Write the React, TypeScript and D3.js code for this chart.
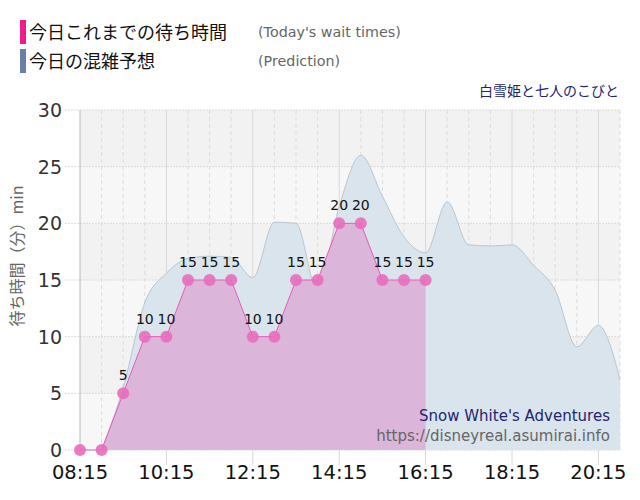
import React, { useRef, useEffect } from 'react';
import * as d3 from 'd3';

// today's wait times (every 30 min)
const actualTimes = ['08:15', '08:45', '09:15', '09:45', '10:15', '10:45', '11:15', '11:45', '12:15',
  '12:45', '13:15', '13:45', '14:15', '14:45', '15:15', '15:45', '16:15'];
const actualWaits = [0, 0, 5, 10, 10, 15, 15, 15, 10, 10, 15, 15, 20, 20, 15, 15, 15];

// predicted congestion
const predTimes = ['08:45', '09:15', '09:45', '10:15', '10:45', '11:15', '11:45', '12:15', '12:45',
  '13:15', '13:45', '14:15', '14:45', '15:15', '15:45', '16:15', '16:45', '17:15', '17:45',
  '18:15', '18:45', '19:15', '19:45', '20:15', '20:45'];
const predWaits = [0, 5.5, 13, 15.6, 16.9, 17.1, 17, 15.2, 20.1, 20, 14, 21.5, 26, 22.4, 18.8,
  17.4, 21.9, 18.1, 18, 18.1, 16.3, 14.1, 9.1, 11, 6.2];

const xTicks = ['08:15', '10:15', '12:15', '14:15', '16:15', '18:15', '20:15'];
const yTicks = [0, 5, 10, 15, 20, 25, 30];

const toMin = (s: string) => {
  const [h, m] = s.split(':').map(Number);
  return h * 60 + m;
};

const FONT = "'DejaVu Sans', 'Noto Sans CJK JP', sans-serif";
const JP = "'Noto Sans CJK JP', 'DejaVu Sans', sans-serif";

const App = () => {
  const svgRef = useRef<SVGSVGElement>(null);

  useEffect(() => {
    if (!svgRef.current) return;
    const svg = d3.select(svgRef.current);
    svg.selectAll('*').remove();

    const left = 80, right = 620, top = 110, bottom = 450;

    const x = d3.scaleLinear().domain([toMin('08:15'), toMin('20:45')]).range([left, right]);
    const y = d3.scaleLinear().domain([0, 30]).range([bottom, top]);

    // legend
    const legend = [
      { color: '#f01b8e', jp: '今日これまでの待ち時間', en: "(Today's wait times)", y: 20 },
      { color: '#6a7fa7', jp: '今日の混雑予想', en: '(Prediction)', y: 49 },
    ];
    legend.forEach(l => {
      svg.append('rect').attr('x', 20).attr('y', l.y).attr('width', 6).attr('height', 24).attr('fill', l.color);
      svg.append('text').attr('x', 29).attr('y', l.y + 19).attr('font-family', JP).attr('font-size', 18)
        .attr('fill', '#111').text(l.jp);
      svg.append('text').attr('x', 258).attr('y', l.y + 17).attr('font-family', FONT).attr('font-size', 14.3)
        .attr('fill', '#666').text(l.en);
    });

    svg.append('text').attr('x', 619).attr('y', 96).attr('text-anchor', 'end')
      .attr('font-family', JP).attr('font-size', 14).attr('fill', '#24246e').text('白雪姫と七人のこびと');

    // plot background bands
    yTicks.slice(1).forEach((t, i) => {
      svg.append('rect').attr('x', left).attr('y', y(t)).attr('width', right - left)
        .attr('height', y(t - 5) - y(t)).attr('fill', i % 2 === 0 ? '#f7f7f7' : '#f2f2f2');
    });

    // vertical grid every 30 min
    const gridTimes = d3.range(toMin('08:45'), toMin('20:45') + 1, 30);
    gridTimes.forEach(t => {
      const major = (t - toMin('08:15')) % 120 === 0;
      svg.append('line').attr('x1', x(t)).attr('x2', x(t)).attr('y1', top)
        .attr('y2', major ? bottom + 15 : bottom)
        .attr('stroke', major ? '#d8d8d8' : '#dcdcdc').attr('stroke-width', 1)
        .attr('stroke-dasharray', major ? null : '4,3');
    });

    // horizontal grid
    yTicks.forEach(t => {
      svg.append('line').attr('x1', 65).attr('x2', right).attr('y1', y(t)).attr('y2', y(t))
        .attr('stroke', '#dadada').attr('stroke-width', 1).attr('stroke-dasharray', '2,1');
    });

    // prediction area
    const predData = predTimes.map((t, i) => ({ t: toMin(t), v: predWaits[i] }));
    const predArea = d3.area<{ t: number; v: number }>()
      .x(d => x(d.t)).y0(bottom).y1(d => y(d.v)).curve(d3.curveMonotoneX);
    const predLine = d3.line<{ t: number; v: number }>()
      .x(d => x(d.t)).y(d => y(d.v)).curve(d3.curveMonotoneX);
    svg.append('path').datum(predData).attr('d', predArea).attr('fill', '#d9e4ec');
    svg.append('path').datum(predData).attr('d', predLine).attr('fill', 'none')
      .attr('stroke', '#b9c6d1').attr('stroke-width', 1);

    // actual area
    const actData = actualTimes.map((t, i) => ({ t: toMin(t), v: actualWaits[i] }));
    const actArea = d3.area<{ t: number; v: number }>().x(d => x(d.t)).y0(bottom).y1(d => y(d.v));
    const actLine = d3.line<{ t: number; v: number }>().x(d => x(d.t)).y(d => y(d.v));
    svg.append('path').datum(actData).attr('d', actArea).attr('fill', '#dcb5da');
    svg.append('path').datum(actData).attr('d', actLine).attr('fill', 'none')
      .attr('stroke', '#e55cb4').attr('stroke-width', 1);

    // y axis line
    svg.append('line').attr('x1', left).attr('x2', left).attr('y1', top).attr('y2', bottom)
      .attr('stroke', '#b8b8b8').attr('stroke-width', 1);

    // points and labels
    svg.selectAll('.dot').data(actData).enter().append('circle')
      .attr('cx', d => x(d.t)).attr('cy', d => y(d.v)).attr('r', 6)
      .attr('fill', '#e86dbd').attr('fill-opacity', 0.9);
    svg.selectAll('.lbl').data(actData.filter(d => d.v > 0)).enter().append('text')
      .attr('x', d => x(d.t)).attr('y', d => y(d.v) - 13).attr('text-anchor', 'middle')
      .attr('font-family', FONT).attr('font-size', 14).attr('fill', '#111').text(d => d.v);

    // tick labels
    yTicks.forEach(t => {
      svg.append('text').attr('x', 62).attr('y', y(t) + 7).attr('text-anchor', 'end')
        .attr('font-family', FONT).attr('font-size', 19).attr('fill', '#333').text(t);
    });
    xTicks.forEach(t => {
      svg.append('text').attr('x', x(toMin(t))).attr('y', 479).attr('text-anchor', 'middle')
        .attr('font-family', FONT).attr('font-size', 19.5).attr('fill', '#111').text(t);
    });

    // y axis title
    svg.append('text').attr('transform', `translate(23, 256) rotate(-90)`).attr('text-anchor', 'middle')
      .attr('font-family', JP).attr('font-size', 16).attr('fill', '#666').text('待ち時間（分）min');

    // credits
    svg.append('text').attr('x', 610).attr('y', 421).attr('text-anchor', 'end')
      .attr('font-family', FONT).attr('font-size', 15).attr('fill', '#24246e').text("Snow White's Adventures");
    svg.append('text').attr('x', 610).attr('y', 441).attr('text-anchor', 'end')
      .attr('font-family', FONT).attr('font-size', 15).attr('fill', '#666').text('https://disneyreal.asumirai.info');
  }, []);

  return (
    <svg ref={svgRef} width={640} height={500}
      style={{ position: 'absolute', left: 0, top: 0, background: '#fff' }} />
  );
};

export default App;
